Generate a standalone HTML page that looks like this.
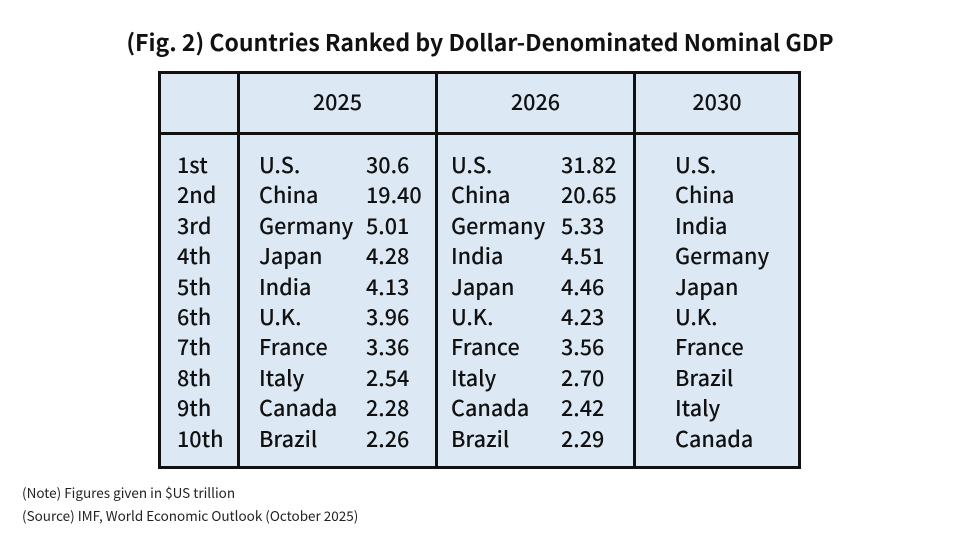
<!DOCTYPE html>
<html><head><style>
body{margin:0;width:960px;height:540px;background:#fff;font-family:"Noto Sans CJK JP","Liberation Sans",sans-serif;position:relative;overflow:hidden}
.t{position:absolute;white-space:nowrap}
#title{top:19px;left:0;width:960px;text-align:center;font-size:23px;font-weight:bold;color:#111;line-height:44px}
#tbl{position:absolute;left:158px;top:71px;width:637px;height:392px;border:3px solid #111;background:#dce9f5}
.v{position:absolute;top:0;bottom:0;width:3px;background:#111}
.h{position:absolute;left:0;right:0;height:3px;background:#111;top:58px}
.c{position:absolute;font-size:21.6px;color:#111;line-height:30.4px;font-weight:500}
.hd{position:absolute;top:-1px;height:58px;line-height:58px;text-align:center;font-size:21.6px;color:#111;font-weight:500}
.n{position:absolute;font-size:13.5px;color:#222;line-height:18px}
</style></head><body>
<div id="title" class="t">(Fig. 2) Countries Ranked by Dollar-Denominated Nominal GDP</div>
<div id="tbl">
<div class="v" style="left:76px"></div>
<div class="v" style="left:274px"></div>
<div class="v" style="left:472px"></div>
<div class="h"></div>
<div class="hd" style="left:79px;width:195px">2025</div>
<div class="hd" style="left:277px;width:195px">2026</div>
<div class="hd" style="left:475px;width:162px">2030</div>
<div class="c" style="left:16px;top:76px">1st<br>2nd<br>3rd<br>4th<br>5th<br>6th<br>7th<br>8th<br>9th<br>10th</div>
<div class="c" style="left:98px;top:76px">U.S.<br>China<br>Germany<br>Japan<br>India<br>U.K.<br>France<br>Italy<br>Canada<br>Brazil</div>
<div class="c" style="left:205px;top:76px">30.6<br>19.40<br>5.01<br>4.28<br>4.13<br>3.96<br>3.36<br>2.54<br>2.28<br>2.26</div>
<div class="c" style="left:290px;top:76px">U.S.<br>China<br>Germany<br>India<br>Japan<br>U.K.<br>France<br>Italy<br>Canada<br>Brazil</div>
<div class="c" style="left:400px;top:76px">31.82<br>20.65<br>5.33<br>4.51<br>4.46<br>4.23<br>3.56<br>2.70<br>2.42<br>2.29</div>
<div class="c" style="left:514px;top:76px">U.S.<br>China<br>India<br>Germany<br>Japan<br>U.K.<br>France<br>Brazil<br>Italy<br>Canada</div>
</div>
<div class="n t" style="left:22px;top:483px">(Note) Figures given in $US trillion</div>
<div class="n t" style="left:22px;top:506px">(Source) IMF, World Economic Outlook (October 2025)</div>
</body></html>
